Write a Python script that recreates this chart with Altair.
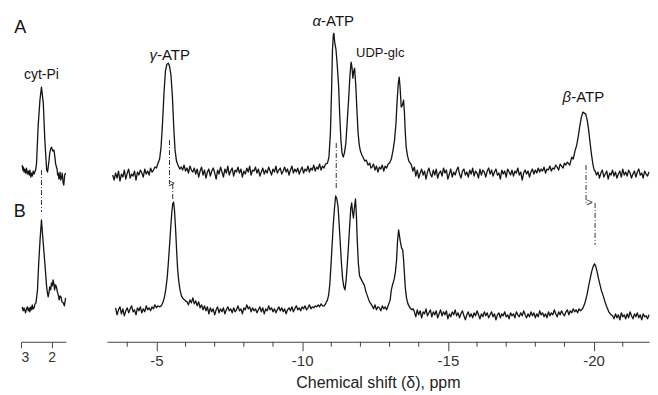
import altair as alt
import pandas as pd

# ---------------- data -------------
# Baseline noise stretches: (first ppm, list of heights read every 0.05 ppm)
# Peak stretches: explicit (ppm, height) pairs.  Heights are above each spectrum's baseline.
STEP = 0.05

A_NOISE_1 = (-3.5, [0, -5, 2, -3, 4, -6, 1, -2, 5, -4, 2, 6, -3, 1, -1, 4, -5, 3, 0, 5,
                    2, -2, 6, 1, 4, 0, 7, 3, 5, 8])
A_GAMMA = [(-5.0, 7), (-5.06, 12), (-5.11, 16), (-5.16, 28), (-5.21, 52), (-5.26, 82),
           (-5.31, 104), (-5.36, 111), (-5.41, 112), (-5.45, 109), (-5.5, 100), (-5.55, 78),
           (-5.6, 45), (-5.64, 25), (-5.69, 14), (-5.74, 10), (-5.8, 6)]
A_NOISE_2 = (-5.85, [8, 5, 10, 4, 7, 2, 9, 5, 3, 7,
                     1, 6, -2, 4, 8, 0, 5, -3, 3, 6,
                     -1, 4, 7, 2, -4, 5, 1, 8, 3, -2,
                     6, 2, 9, 0, 4, 7, -1, 5, 3, 8,
                     2, 6, -2, 4, 1, 7, 3, 9, 0, 5,
                     4, 8, 2, 6, -1, 3, 7, 1, 5, 2,
                     8, 4, 0, 6, 3, 9, 2, 5, 7, 1,
                     4, 8, 3, 6, 0, 5, 9, 2, 6, 3,
                     7, 1, 5, 8, 2, 6, 4, 9, 3, 7,
                     5, 10, 4, 8, 6, 11, 5, 9, 7, 11])
A_ALPHA_UDP = [(-10.87, 12), (-10.92, 18), (-10.97, 42), (-11.01, 85), (-11.04, 125),
               (-11.07, 140), (-11.09, 142), (-11.12, 132), (-11.16, 126), (-11.2, 112),
               (-11.25, 90), (-11.29, 60), (-11.33, 35), (-11.37, 22), (-11.41, 18),
               (-11.45, 22), (-11.5, 32), (-11.55, 55), (-11.6, 78), (-11.64, 100),
               (-11.68, 113), (-11.71, 108), (-11.74, 97), (-11.77, 104), (-11.8, 107),
               (-11.84, 90), (-11.88, 65), (-11.92, 42), (-11.96, 30), (-12.0, 24),
               (-12.05, 20), (-12.1, 17), (-12.15, 14), (-12.2, 15), (-12.26, 10),
               (-12.32, 12), (-12.36, 7)]
A_NOISE_3 = (-12.4, [8, 11, 5, 9, 3, 8, 6, 10, 4, 9, 7, 11])
A_THIRD = [(-13.0, 12), (-13.06, 16), (-13.12, 25), (-13.17, 35), (-13.22, 52), (-13.26, 75),
           (-13.3, 92), (-13.33, 98), (-13.36, 88), (-13.4, 68), (-13.44, 70), (-13.48, 75),
           (-13.51, 62), (-13.54, 42), (-13.57, 28), (-13.61, 20), (-13.66, 14), (-13.71, 12)]
A_NOISE_4 = (-13.75, [10, 4, 8, -1, 5, -3, 2, 6, 0, 4,
                      -4, 3, 7, 1, -2, 5, 0, 6, -3, 2,
                      4, -1, 7, 2, 5, -4, 1, 6, -2, 3,
                      0, 5, 8, 1, -3, 4, 6, 0, 3, -2,
                      5, 1, 7, -1, 4, 2, -3, 6, 0, 5,
                      3, -2, 4, 7, 1, 5, -1, 3, 6, 0,
                      2, -4, 5, 1, 4, -2, 6, 3, 0, 5,
                      -1, 4, 2, 7, 0, 3, -5, 2, 5, 1,
                      4, -2, 3, 6, 1, 5, 2, 7, 3, 6,
                      4, 8, 2, 6, 5, 9, 4, 7, 6, 10,
                      8, 5, 11, 9, 7, 12, 10, 13])
A_BETA = [(-19.18, 10), (-19.25, 18), (-19.3, 16), (-19.36, 24), (-19.42, 30), (-19.47, 38),
          (-19.52, 48), (-19.58, 58), (-19.63, 63), (-19.68, 62), (-19.73, 61), (-19.78, 55),
          (-19.83, 45), (-19.88, 32), (-19.93, 20), (-19.98, 10), (-20.02, 5)]
A_NOISE_5 = (-20.05, [4, 0, 3, -3, 2, 5, -2, 1, 4, -4, 2, 0, 5, -1, 3, -3, 1, 4, -2, 6,
                      0, 3, -1, 5, 2, -3, 1, 4, -2, 3, 6, 0, 2, -3, 4, 1, -1, 3])

B_NOISE_1 = (-3.6, [4, -3, 2, 5, -2, 3, -4, 1, 4, -1, 3, 6, 0, 2, -3, 4, 1, 5, -1, 3,
                    0, 6, 2, 4, 1, 5, 3, 7, 4, 6, 5])
B_GAMMA = [(-5.17, 6), (-5.22, 9), (-5.27, 14), (-5.32, 22), (-5.37, 34), (-5.41, 49),
           (-5.45, 66), (-5.49, 84), (-5.53, 100), (-5.56, 108), (-5.59, 110), (-5.62, 102),
           (-5.66, 82), (-5.7, 58), (-5.73, 42), (-5.77, 30), (-5.81, 22), (-5.86, 16),
           (-5.92, 13), (-6.0, 11)]
B_NOISE_2 = (-6.05, [10, 7, 12, 9, 14, 8, 11, 6, 10, 4,
                     7, 2, 6, 1, 5, -2, 4, 0, 3, -3,
                     2, 5, -1, 3, 0, 4, -2, 2, 5, 1,
                     3, -1, 4, 0, 2, 6, 1, 3, -2, 4,
                     2, 7, 3, 5, 0, 4, 1, 3, -1, 2,
                     5, 0, 4, -2, 3, 1, 6, 2, 4, 0,
                     3, -1, 2, 5, 1, 4, 0, 3, -2, 2,
                     4, 1, 5, 0, 3, 6, 2, 4, 1, 5,
                     3, 6, 2, 4, 7, 3, 5, 4, 6, 5,
                     7, 5, 8, 6])
B_ALPHA_UDP = [(-10.76, 6), (-10.82, 9), (-10.87, 12), (-10.91, 17), (-10.95, 28),
               (-10.99, 47), (-11.03, 68), (-11.07, 88), (-11.11, 104), (-11.15, 116),
               (-11.19, 113), (-11.23, 106), (-11.27, 88), (-11.31, 68), (-11.35, 48),
               (-11.39, 33), (-11.43, 25), (-11.47, 22), (-11.51, 32), (-11.55, 48),
               (-11.59, 66), (-11.63, 86), (-11.67, 104), (-11.7, 109), (-11.73, 100),
               (-11.76, 94), (-11.8, 106), (-11.83, 113), (-11.86, 98), (-11.89, 72),
               (-11.93, 48), (-11.97, 36), (-12.02, 33), (-12.07, 30), (-12.13, 27),
               (-12.19, 20), (-12.25, 15), (-12.31, 10), (-12.36, 8)]
B_NOISE_3 = (-12.4, [6, 3, 7, 2, 5, 4, 1, 6, 3, 5, 2, 6])
B_THIRD = [(-13.02, 12), (-13.06, 22), (-13.11, 28), (-13.16, 33), (-13.2, 40), (-13.24, 52),
           (-13.27, 70), (-13.31, 82), (-13.34, 76), (-13.37, 70), (-13.41, 64), (-13.45, 62),
           (-13.48, 52), (-13.51, 38), (-13.54, 24), (-13.58, 14), (-13.63, 8), (-13.7, 4),
           (-13.77, 2), (-13.81, 3)]
B_NOISE_4 = (-13.85, [0, -5, 2, -3, 1, -6, 0, -2, 3, -4,
                      -1, 2, -5, 0, -3, 1, -6, -2, 2, -4,
                      0, -3, 1, -7, -2, -5, 0, -3, 2, -4,
                      -1, -6, -2, 1, -4, -8, -3, 0, -5, -2,
                      -6, -1, -4, 1, -3, -7, -2, -5, 0, -4,
                      -1, -6, -3, 0, -5, -2, -8, -3, -1, -6,
                      -2, -4, 0, -5, -3, -7, -1, -4, -2, -6,
                      0, -3, -5, -1, -4, 1, -3, -6, -2, -5,
                      0, -4, -1, -6, -2, -5, 1, -3, -1, -5,
                      -2, -6, 0, -4, -1, -3, 2, -2, -5, 0,
                      -3, 1, -2, -4, 0, 2, -3, 1, -1, 3,
                      0, 2, -1, 3, 1])
B_BETA = [(-19.62, 3), (-19.68, 7), (-19.73, 12), (-19.78, 18), (-19.83, 26), (-19.88, 33),
          (-19.93, 40), (-19.98, 45), (-20.03, 48), (-20.07, 46), (-20.12, 40), (-20.17, 33),
          (-20.22, 27), (-20.27, 21), (-20.33, 16), (-20.39, 10), (-20.45, 5), (-20.52, 0),
          (-20.6, -3)]
B_NOISE_5 = (-20.65, [-4, -7, -2, -6, -3, -8, -1, -5, -3, -7, -2, -6, 0, -4, -7, -2, -5,
                      -1, -6, -3, -8, -2, -5, -4, -7, -3])

A_SMALL = [(2.96, 10), (2.94, 5), (2.92, 8), (2.9, 3), (2.88, 6), (2.85, 2), (2.82, 7),
           (2.79, 1), (2.76, 4), (2.73, 0), (2.71, 5), (2.68, -2), (2.66, 2), (2.63, -1),
           (2.6, 4), (2.57, 1), (2.55, 3), (2.52, 5), (2.49, 12), (2.44, 48), (2.38, 75),
           (2.33, 88), (2.27, 72), (2.22, 35), (2.16, 5), (2.13, 3), (2.11, 8), (2.08, 15),
           (2.06, 22), (2.03, 26), (2.0, 28), (1.96, 24), (1.92, 25), (1.89, 18), (1.87, 12),
           (1.84, 8), (1.82, 6), (1.8, 0), (1.78, 2), (1.76, -4), (1.74, -3), (1.72, 3),
           (1.7, -5), (1.67, -2), (1.65, 2), (1.62, -8), (1.6, -10), (1.57, 0), (1.54, 2)]
B_SMALL = [(2.96, 5), (2.93, 1), (2.9, 4), (2.88, 2), (2.85, -1), (2.82, 3), (2.79, 5),
           (2.76, 1), (2.73, 4), (2.71, 0), (2.68, 5), (2.65, 2), (2.63, 7), (2.6, 3),
           (2.57, 4), (2.54, 8), (2.51, 9), (2.49, 14), (2.46, 22), (2.42, 49), (2.37, 75),
           (2.33, 92), (2.28, 72), (2.22, 49), (2.16, 25), (2.13, 18), (2.11, 15), (2.08, 20),
           (2.06, 25), (2.03, 22), (2.0, 29), (1.97, 26), (1.95, 32), (1.92, 28), (1.9, 22),
           (1.87, 27), (1.84, 25), (1.81, 20), (1.78, 17), (1.75, 12), (1.72, 16), (1.69, 15),
           (1.66, 10), (1.62, 9), (1.58, 6), (1.54, 14)]

# vertical stacking of the two spectra (intensity units)
OFFSET_A = 167
OFFSET_B = 30
Y_MAX = 334

MAIN_DOMAIN = [-3.3, -21.9]
SMALL_DOMAIN = [3.0, 1.53]
MAJOR_TICKS = [-5, -10, -15, -20]
MINOR_TICKS = [-4, -6, -7, -8, -9, -11, -12, -13, -14, -16, -17, -18, -19, -21]
SMALL_TICKS = [3, 2]

# peak labels: italic Greek prefix + upright remainder
ATP_GREEK = ["γ", "α", "β"]
ATP_REST = ["-ATP", "-ATP", "-ATP"]
ATP_PPM = [-5.43, -11.06, -19.64]
ATP_Y = [287, 321, 245]
OTHER_LABELS = ["UDP-glc"]
OTHER_PPM = [-12.68]
OTHER_Y = [289]

SMALL_LABELS = ["cyt-Pi", "A", "B"]
SMALL_LABEL_PPM = [2.33, 3.02, 3.04]
SMALL_LABEL_Y = [267, 314, 130]
SMALL_LABEL_SIZE = [14, 18, 18]

# dash-dot guide lines: ppm, y from, y to
GUIDE_PPM = [-5.45, -5.56, -11.17, -19.74, -20.05]
GUIDE_Y1 = [202, 158, 199, 177, 139]
GUIDE_Y2 = [158, 142, 152, 139, 97]
ARROW_PPM = [-5.52, -19.86]
ARROW_Y = [158, 139]
SMALL_GUIDE_PPM = [2.33]
SMALL_GUIDE_Y1 = [172]
SMALL_GUIDE_Y2 = [130]

FONT = "Liberation Sans"
INK = "#141414"


def expand(noise):
    start, vals = noise
    return [(round(start - i * STEP, 3), v) for i, v in enumerate(vals)]


A_MAIN = (expand(A_NOISE_1) + A_GAMMA + expand(A_NOISE_2) + A_ALPHA_UDP + expand(A_NOISE_3)
          + A_THIRD + expand(A_NOISE_4) + A_BETA + expand(A_NOISE_5))
B_MAIN = (expand(B_NOISE_1) + B_GAMMA + expand(B_NOISE_2) + B_ALPHA_UDP + expand(B_NOISE_3)
          + B_THIRD + expand(B_NOISE_4) + B_BETA + expand(B_NOISE_5))


def spectrum_frame(a, b):
    rows = []
    for i, (p, h) in enumerate(a):
        rows.append({"ppm": p, "y": h + OFFSET_A, "spec": "A", "o": i})
    for i, (p, h) in enumerate(b):
        rows.append({"ppm": p, "y": h + OFFSET_B, "spec": "B", "o": i})
    return pd.DataFrame(rows)


main_spec = spectrum_frame(A_MAIN, B_MAIN)
small_spec = spectrum_frame(A_SMALL, B_SMALL)

ymain = alt.Y("y:Q", scale=alt.Scale(domain=[0, Y_MAX], nice=False, zero=False), axis=None)

# ---------------- main panel ----------------
main_lines = alt.Chart(main_spec).mark_line(color=INK, strokeWidth=1.3, strokeJoin="round").encode(
    x=alt.X(
        "ppm:Q",
        scale=alt.Scale(domain=MAIN_DOMAIN, nice=False, zero=False),
        axis=alt.Axis(
            values=MAJOR_TICKS,
            tickSize=9,
            labelExpr="'' + datum.value",
            title="Chemical shift (δ), ppm",
            labelFontSize=15,
            titleFontSize=16,
            labelPadding=3,
            titlePadding=6,
        ),
    ),
    y=ymain,
    detail="spec:N",
    order="o:Q",
)

minor_df = pd.DataFrame({"ppm": MINOR_TICKS, "y": [0] * len(MINOR_TICKS), "y2": [-5] * len(MINOR_TICKS)})
minor = alt.Chart(minor_df).mark_rule(color="#444", strokeWidth=1).encode(
    x="ppm:Q", y="y:Q", y2="y2:Q"
)

guide_df = pd.DataFrame({"ppm": GUIDE_PPM, "y": GUIDE_Y1, "y2": GUIDE_Y2})
guides = alt.Chart(guide_df).mark_rule(color="#333", strokeWidth=1, strokeDash=[5, 2, 1, 2]).encode(
    x="ppm:Q", y="y:Q", y2="y2:Q"
)

arrow_df = pd.DataFrame({"ppm": ARROW_PPM, "y": ARROW_Y, "t": [">"] * len(ARROW_PPM)})
arrows = alt.Chart(arrow_df).mark_text(font=FONT, fontSize=11, color="#333").encode(
    x="ppm:Q", y="y:Q", text="t:N"
)

greek_df = pd.DataFrame({"ppm": ATP_PPM, "y": ATP_Y, "t": ATP_GREEK})
greek = alt.Chart(greek_df).mark_text(
    font=FONT, fontSize=15, fontStyle="italic", color=INK, baseline="middle", align="right", dx=-12
).encode(x="ppm:Q", y="y:Q", text="t:N")
rest_df = pd.DataFrame({"ppm": ATP_PPM, "y": ATP_Y, "t": ATP_REST})
rest = alt.Chart(rest_df).mark_text(
    font=FONT, fontSize=15, color=INK, baseline="middle", align="left", dx=-12
).encode(x="ppm:Q", y="y:Q", text="t:N")
other_df = pd.DataFrame({"ppm": OTHER_PPM, "y": OTHER_Y, "t": OTHER_LABELS})
other = alt.Chart(other_df).mark_text(font=FONT, fontSize=13, color=INK, baseline="middle").encode(
    x="ppm:Q", y="y:Q", text="t:N"
)

main = alt.layer(main_lines, minor, guides, arrows, greek, rest, other).properties(width=543, height=Y_MAX)

# ---------------- small (Pi) panel ----------------
small_lines = alt.Chart(small_spec).mark_line(color=INK, strokeWidth=1.3, strokeJoin="round").encode(
    x=alt.X(
        "ppm:Q",
        scale=alt.Scale(domain=SMALL_DOMAIN, nice=False, zero=False),
        axis=alt.Axis(values=SMALL_TICKS, tickSize=6, labelExpr="'' + datum.value", title=None,
                      labelFontSize=14, labelPadding=3),
    ),
    y=ymain,
    detail="spec:N",
    order="o:Q",
)
sguide_df = pd.DataFrame({"ppm": SMALL_GUIDE_PPM, "y": SMALL_GUIDE_Y1, "y2": SMALL_GUIDE_Y2})
sguides = alt.Chart(sguide_df).mark_rule(color="#333", strokeWidth=1, strokeDash=[5, 2, 1, 2]).encode(
    x="ppm:Q", y="y:Q", y2="y2:Q"
)
slab_df = pd.DataFrame({"ppm": SMALL_LABEL_PPM, "y": SMALL_LABEL_Y, "t": SMALL_LABELS, "s": SMALL_LABEL_SIZE})
slabels = alt.Chart(slab_df).mark_text(font=FONT, color=INK, baseline="middle").encode(
    x="ppm:Q", y="y:Q", text="t:N", size=alt.Size("s:Q", scale=None, legend=None)
)
small = alt.layer(small_lines, sguides, slabels).properties(width=45, height=Y_MAX)

chart = alt.hconcat(small, main, spacing=41, bounds="flush").properties(
    padding={"left": 5, "top": 0, "right": 0, "bottom": 0}
).configure_view(stroke=None).configure_axis(
    grid=False,
    domainColor="#444",
    tickColor="#444",
    labelColor="#333",
    titleColor="#222",
    labelFont=FONT,
    titleFont=FONT,
    titleFontWeight="normal",
)

chart.save("out.html", embed_options={"renderer": "svg", "actions": False})
